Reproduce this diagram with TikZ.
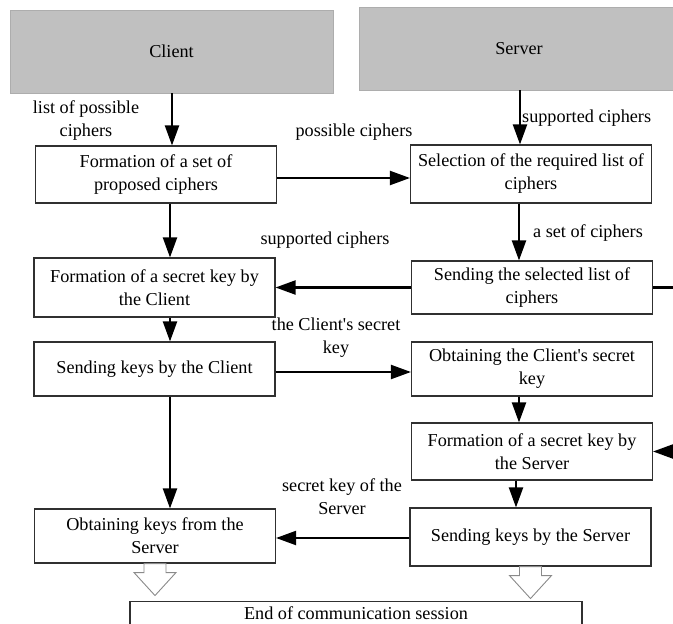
\documentclass[tikz,border=0pt]{standalone}
\usepackage{fontspec}
\setmainfont{Liberation Serif}
\usetikzlibrary{arrows.meta}
\definecolor{headgray}{HTML}{C0C0C0}
\definecolor{boxline}{HTML}{303030}
\definecolor{blockline}{HTML}{8A8A8A}
\begin{document}
\begin{tikzpicture}[x=1pt,y=-1pt,
  txt/.style={font=\fontsize{18.2}{23}\selectfont, align=center, inner sep=0pt},
  head/.style={fill=headgray, draw=headgray!90!black, txt},
  stepbox/.style={draw=boxline, line width=1.1pt, fill=white, txt,
     minimum width=241pt, minimum height=#1},
  stepbox/.default=56pt,
  flow/.style={line width=2.1pt, -{Triangle[length=20pt,width=14pt]}},
  plainline/.style={line width=2.1pt},
  lbl/.style={txt}
]
\useasboundingbox (0,0) rectangle (673,624);

% header bars
\node[head, minimum width=323pt, minimum height=83pt] (client) at (171.5,51.5) {Client};
\node[head, minimum width=320pt, minimum height=83pt] (server) at (519,48.5) {Server};

% client column
\node[stepbox=57pt] (b1) at (156,174.5) {Formation of a set of\\proposed ciphers};
\node[stepbox=59pt] (b3) at (154.5,287.5) {Formation of a secret key by\\the Client};
\node[stepbox=54pt] (b5) at (154.5,369) {Sending keys by the Client};
\node[stepbox=54pt] (b8) at (155,536) {Obtaining keys from the\\Server};

% server column
\node[stepbox=58pt] (b2) at (531,174) {Selection of the required list of\\ciphers};
\node[stepbox=53pt] (b4) at (532,287.5) {Sending the selected list of\\ciphers};
\node[stepbox=54pt] (b6) at (532,369) {Obtaining the Client\textquotesingle s secret\\key};
\node[stepbox=57pt] (b7) at (532,451.5) {Formation of a secret key by\\the Server};
\node[stepbox=58pt] (b9) at (530.5,537) {Sending keys by the Server};

% final box
\node[draw=boxline, line width=1.1pt, fill=white, txt, minimum width=452pt,
      minimum height=30pt, anchor=north, text depth=0pt] (endbox) at (356,601)
      {\raisebox{6pt}{End of communication session}};

% open ends on the right edge
\coordinate (edgeA) at (673,287.5);
\coordinate (edgeB) at (673,451.5);

% vertical flows
\draw[flow] (client.south -| 172,0) -- (b1.north -| 172,0);
\draw[flow] (server.south -| 520,0) -- (b2.north -| 520,0);
\draw[flow] (b1.south -| 170,0) -- (b3.north -| 170,0);
\draw[flow] (b2.south -| 519,0) -- (b4.north -| 519,0);
\draw[flow] (b3.south -| 170,0) -- (b5.north -| 170,0);
\draw[flow] (b6.south -| 519,0) -- (b7.north -| 519,0);
\draw[flow] (b7.south -| 516,0) -- (b9.north -| 516,0);
\draw[flow] (b5.south -| 170,0) -- (b8.north -| 170,0);

% horizontal flows
\draw[flow] (b1.east |- 0,178) -- (b2.west |- 0,178);
\draw[flow] (b4.west) -- (b3.east |- b4.west);
\draw[flow] (b5.east |- 0,372) -- (b6.west |- 0,372);
\draw[flow] (b9.west |- 0,538) -- (b8.east |- 0,538);
\draw[plainline] (b4.east) -- (edgeA);
\draw[flow] (edgeB) -- (b7.east);

% labels
\node[lbl] (l1) at (86,121) {list of possible\\ciphers};
\node[lbl] (l2) at (354,132) {possible ciphers};
\node[lbl, anchor=west] (l3) at (522,118) {supported ciphers};
\node[lbl, anchor=west] (l4) at (533,233) {a set of ciphers};
\node[lbl] (l5) at (325,240) {supported ciphers};
\node[lbl] (l6) at (336,338) {the Client\textquotesingle s secret\\key};
\node[lbl] (l7) at (342,497) {secret key of the\\Server};

% hollow block arrows into the final box
\foreach \src in {b8,b9}{
  \draw[blockline, line width=0.9pt, fill=white]
    ([xshift=-11pt]\src.south) -- ++(0,9) -- ++(-10,0) -- ++(21,23)
    -- ++(21,-23) -- ++(-10,0) -- ++(0,-9) -- cycle;
}
\end{tikzpicture}
\end{document}
